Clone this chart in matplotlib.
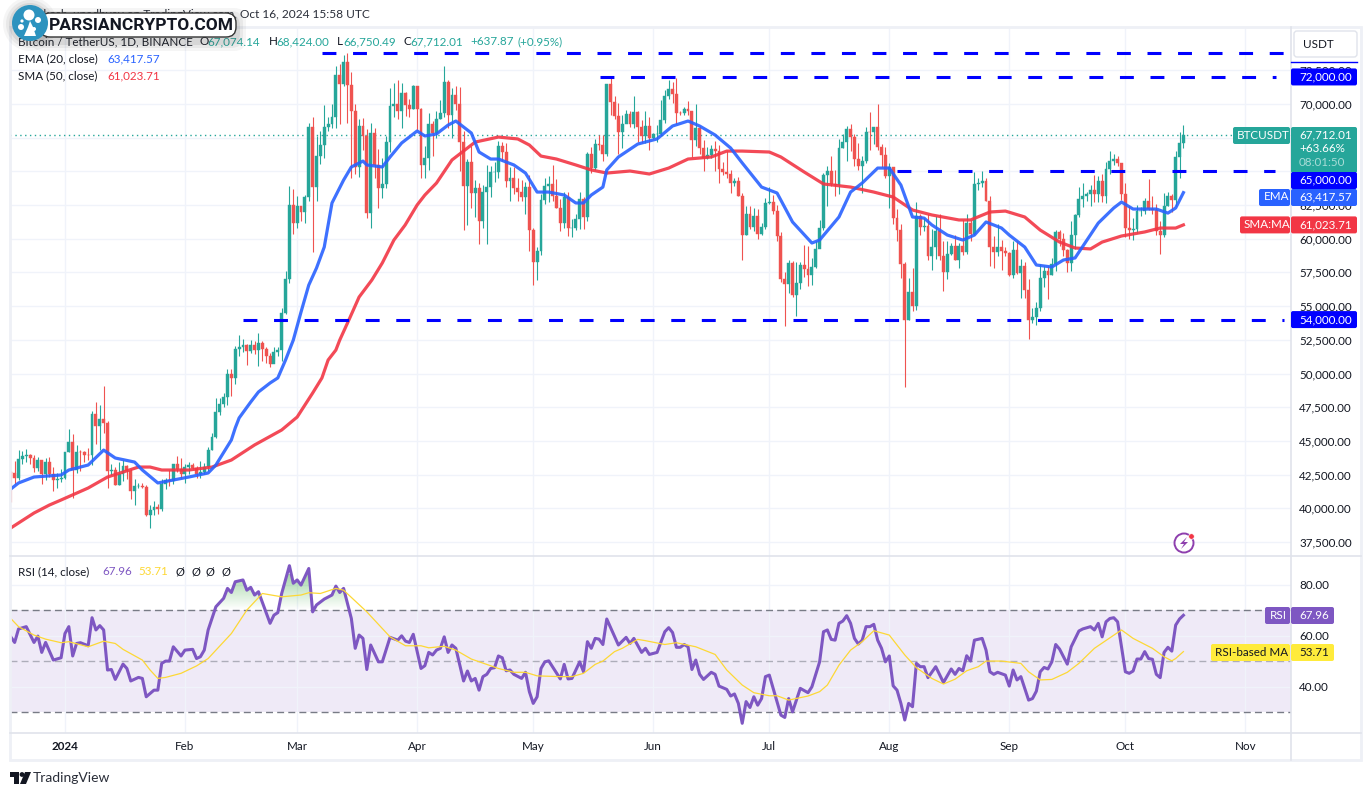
import numpy as np
import matplotlib
matplotlib.use('Agg')
import matplotlib.pyplot as plt
from matplotlib.patches import Circle, FancyBboxPatch, Polygon, Rectangle
from matplotlib.path import Path

plt.rcParams['font.family'] = ['Lato', 'DejaVu Sans']

W, H = 1372, 796

##daily candles, day 0 is Jan 1 2024
first_day = -14
first_open = 42660
closes = [
	42650,42270,43660,43860,43990,43730,43010,43580,42520,43440,42580,42070,42140,42280,
	44180,44950,42850,44180,44160,43970,43930,46970,46120,46650,46340,42780,42840,41730,42510,43140,42780,41290,41620,41670,41550,39530,39890,40080,39930,41820,42120,42030,43300,42940,42580,
	43080,43190,42990,42580,42700,43090,44350,45290,47130,47770,48290,49950,49700,51830,51940,52120,51640,52130,51780,52260,51850,51300,50730,51570,51730,54480,57040,62500,61130,
	62390,61990,63130,68250,63800,66100,66930,68300,68500,69020,72120,71480,73080,71390,69500,65300,68390,67600,61940,67840,65500,63790,64040,67210,69880,69990,69450,70780,69900,69620,71330,
	69650,65470,65970,68490,67840,68900,69360,71620,69150,70640,70010,67190,63920,65660,63420,63790,61280,63470,63820,64940,64940,66840,66410,64280,64500,63770,63460,63120,63840,60670,
	58300,59120,62890,63890,64030,63160,62310,61190,63070,60790,60820,61480,62940,61580,66270,65230,67050,66940,66270,71450,70140,69120,67930,68530,69280,68500,69390,68300,67630,68360,67490,
	67750,67760,68800,70560,71080,70760,69340,69300,69650,69510,67320,68240,66750,66010,66190,66640,66490,65150,64960,64830,64100,64250,63180,60280,61800,60860,61670,60320,60890,62670,
	62750,62020,60200,57040,56630,58230,55850,56700,58040,57720,57340,57890,59200,60790,64720,65040,64090,63970,66700,67150,68170,67530,65930,65370,65780,67910,67900,68250,66780,66190,64620,
	65350,61500,60680,58110,53990,56040,55030,61710,60880,60940,58710,59350,60600,58730,57560,58870,59490,58430,59470,59010,61160,60380,64040,64160,64250,62830,59420,59030,59370,59120,58970,
	57300,59130,57480,57970,56160,53950,54160,54870,57050,57640,57340,58130,60500,60000,59130,58210,60310,61760,62950,63200,63350,63580,63330,64260,63140,65180,65790,65880,65600,63330,
	60800,60650,60750,62080,62090,62820,62220,62130,60580,60270,62450,63190,62850,66050,67074,67712,
]
highs = [
	42750,43500,44290,44240,44370,44040,43950,43800,43600,43700,43800,43100,42600,42900,
	44190,45880,45500,44730,44350,44220,44500,47250,47880,47700,49050,46500,43260,43080,43400,43570,43200,42930,42200,41870,41880,41710,40280,40550,40300,42200,42240,42840,43310,43880,43740,
	43290,43420,43380,43120,43530,43380,44550,45600,48170,48150,48590,50300,50360,52040,52820,52570,52160,52480,52400,52980,52380,52000,51540,51980,51950,54880,57590,63930,63680,
	63150,62430,63230,68560,69000,67640,67990,69900,69030,70000,72800,72970,73650,73780,72400,70000,68900,68950,68120,68620,68240,66650,65970,67620,71150,71560,71770,71550,70900,70350,71370,
	71300,69700,66900,69300,68750,69500,70300,72800,71750,71200,71300,71260,68000,65900,66900,64350,64130,64000,65450,65390,65700,67230,67200,67070,65300,65300,64490,64370,64230,64750,
	60800,59400,63300,64500,64650,65500,64400,62980,63450,63450,61440,61800,63450,63120,66450,66800,67400,67700,67690,71500,71950,70600,70050,69200,69550,69500,70600,69500,68800,69500,69000,
	67850,68400,70300,71050,71750,71600,71950,69500,69800,70200,69500,70000,68350,67300,66800,66950,67250,66950,65700,66500,65100,64500,64550,63400,62400,62450,62300,62200,61200,63000,
	63800,63250,62500,60500,57500,58450,58350,58250,58300,59500,59450,58550,59800,61400,64900,65400,66100,65100,67400,67800,68350,68500,67800,67100,66100,68250,69400,68300,70000,67000,66800,
	65600,65000,62200,61100,58300,57100,57800,62700,61800,61500,61850,60700,61700,61800,59800,59850,59700,60300,59650,61400,61800,61400,64950,64500,65000,64500,63200,60200,61100,59900,59400,
	59000,59800,59850,58500,58300,57000,54850,55300,58100,58000,58000,58600,60650,60650,60400,59200,61300,61800,63850,64100,63500,64000,64700,64650,64800,65700,66500,66250,66100,65500,
	64150,62400,61500,62500,62370,63000,64450,63200,62550,61300,63400,63500,63300,66500,67950,68424,
]
lows = [
	40500,41800,42100,43300,43400,43300,42700,42750,41800,42100,42300,41300,41500,41960,
	42170,44150,40750,42630,42800,43400,43590,43200,44800,44300,45600,41500,42440,41700,41720,42050,42200,40680,40280,41500,41500,39430,38550,39480,39550,39820,41400,41630,41820,42680,42280,
	41880,42570,42880,42260,42260,42570,42780,44350,45240,46900,47550,47700,48300,49250,51300,51620,50630,51520,51480,50520,50900,50770,50500,50940,51280,50900,54450,56700,60360,
	60800,61320,61130,62800,59000,62770,65550,66000,68000,68200,68200,68500,71340,68550,64530,64780,64550,66600,61500,60780,64530,62260,63000,63790,66400,69000,68900,68200,69100,69000,69610,
	68100,64500,64500,65060,66150,67500,68900,69050,68200,67500,69570,65000,60660,61000,62300,61600,59600,60830,59600,63100,64240,64500,65800,63800,62800,63300,62800,62800,61800,59100,
	56550,56900,58800,62600,62700,62800,62250,60600,60800,60200,60140,60630,60750,60700,61300,64900,65100,66600,65800,66100,69200,68900,66300,66700,68900,68300,68200,67200,67100,67100,66600,
	67400,67200,67600,68550,70400,70100,68500,69200,69200,69200,66050,66900,66300,65000,65900,66000,65000,64100,64700,64500,63400,63900,63200,58400,60250,60700,60600,60000,60250,60700,
	62550,61800,59800,56800,53500,56000,55700,54300,56300,57150,56500,56550,57800,59500,60650,62400,63900,63200,63300,66700,65800,66500,65400,65100,63400,65650,66600,67000,66550,65300,64500,
	62300,61100,59850,57100,49000,53950,54600,54700,60300,60600,58400,57650,58500,58450,56100,57000,58800,58400,57850,58800,58850,59800,60300,63600,63800,62800,58000,57850,58750,57700,58750,
	57200,57100,57400,55600,55600,52550,53750,53600,54600,56400,55550,57300,57600,59450,58700,57500,57600,59200,61600,62350,62800,62400,62700,62700,62700,62650,64800,65450,65400,62900,
	60150,60000,59900,60450,61700,61800,62100,61800,60300,58900,60100,62400,62000,62400,64500,66750,
]

ema_points = [(-14,41430),(-12,41877),(-8,42320),(-1,42470),(1,42840),(6,43210),(10,44320),(13,43730),(18,43430),(20,42840),(24,41880),(32,42320),(37,42620),(39,43210),(43,45070),(44,45960),(45,46700),(48,47885),(50,48630),(53,49295),(55,49670),(57,51000),(59,52480),(61,54560),(63,56560),(65,57825),(67,59380),(68,61015),(69,62650),(72,64350),(74,65320),(77,65760),(78,65470),(82,65320),(84,66060),(87,67100),(91,67990),(93,67620),(96,67770),(99,68430),(101,68730),(105,67840),(107,66430),(110,65910),(112,65910),(116,65470),(119,64870),(122,63460),(125,63460),(129,63240),(132,62650),(134,62650),(136,63240),(139,63830),(140,65100),(143,66060),(148,67020),(153,67400),(157,68360),(161,68730),(164,68360),(168,67690),(172,66730),(175,65620),(180,63830),(184,63390),(188,61240),(193,59680),(195,59900),(200,61610),(203,63460),(206,64130),(210,65240),(213,65240),(216,63980),(219,61610),(222,61530),(224,61020),(228,60270),(232,59900),(235,60270),(238,61240),(242,60790),(244,60270),(248,59380),(251,58050),(255,57900),(258,58420),(261,58570),(267,61160),(271,62280),(273,62720),(276,62200),(282,62200),(285,61900),(287,62280),(289,63418)]
sma_points = [(-14,38540),(-8,39650),(-4,40245),(-1,40616),(6,41506),(11,42320),(15,42690),(19,43060),(22,43060),(25,42840),(32,42840),(38,43060),(43,43580),(49,44700),(56,45810),(60,46770),(64,48550),(66.4,49670),(68,51000),(70,51740),(71,52480),(73.6,54120),(76,55670),(79.3,56935),(82,58200),(85,59900),(87.9,61015),(91,62500),(93,63240),(96,64130),(100,65840),(106,67170),(112,67540),(117,67400),(120,66950),(123,66130),(127,65910),(132,65470),(136,65100),(140,64870),(146,65020),(151,64800),(156,65240),(161,65910),(167,66060),(171,66500),(175,66500),(182,66430),(185,66060),(191,64950),(196,64060),(203,63830),(209,63460),(214,63090),(219,62130),(224,61760),(231,61390),(234,61390),(239,61980),(243,62050),(248,61610),(252,60640),(257,59750),(261,59310),(265,59240),(268,59750),(273,60200),(279,60500),(283,60790),(287,60790),(289,61024)]

rsi_points = [(-14,59.5),(-13,57.3),(-12,62.6),(-10,63.5),(-8,57.3),(-7,59.8),(-6,53.4),(-5,57.3),(-3,50.4),(-1,51.3),(0,60.8),(1,63.5),(2,52),(3,56.9),(4,57.2),(6,56),(7,67),(8,62.2),(9,63.9),(10,62.2),(11,46.5),(12,46.7),(13,42.8),(15,48.8),(16,47.1),(17,42.2),(19,43.6),(20,43.2),(21,36),(23,38.6),(24,38.6),(25,49.1),(26,50),(27,50),(28,55.6),(30,52),(31,54.3),(33,54.6),(34,51),(35,51.7),(36,54.3),(37,62.2),(39,71.3),(41,74.6),(42,78.5),(43,76.9),(44,81.1),(46,81.8),(47,77.8),(48,78.9),(49,75.9),(50,77.2),(53,64.8),(54,68),(55,69),(56,76.5),(58,87.4),(59,80.5),(60,81.8),(61,79.8),(63,86.3),(64,69.3),(65,72),(67,74.3),(69,75.9),(70,79.4),(71,76.9),(72,78.5),(74,66.7),(75,55),(76,60.2),(77,58.9),(78,46.7),(79,56.3),(81,49.7),(82,49.7),(84,59.3),(86,58.2),(87,59.9),(88,57.8),(89,57.3),(90,60.5),(92,47.1),(93,48.2),(94,53.4),(95,52.4),(96,54.3),(97,55),(98,59.5),(99,53.4),
	(100,56.3),(101,55),(103,42.2),(104,46.1),(105,42.2),(106,43.2),(107,38.6),(108,43.9),(109,44.8),(110,47.1),(111,47.4),(112,52),(113,51.3),(114,46.2),(115,46.5),(116,44.8),(118,43.2),(119,45.6),(120,38),(121,33.4),(122,36),(123,47.1),(124,49.7),(125,50.1),(128,43),(129,48.7),(130,43),(131,43.2),(133,49.7),(134,45.8),(135,57.6),(136,55),(137,58.9),(138,58.6),(139,56.5),(140,66.5),(143,56.3),(145,59.3),(146,56.9),(147,58.9),(149,53.4),(150,55),(151,52.6),(153,53.4),(155,61.5),(156,63.1),(157,61.2),(158,55.4),(159,55.4),(160,56.5),(161,55.6),(162,46.7),(163,50.4),(164,44.8),(165,42.8),(167,45.6),(168,44.8),(169,40.2),(171,38.9),(172,36.3),(173,37.1),(174,33.4),(175,25.6),(176,34.1),(177,31.8),(178,36),(179,32.7),(180,35.3),(181,43.9),(182,44.5),(183,39.3),(185,28.8),(186,27.9),(187,35.3),(188,30.1),(190,39.3),(192,37.6),(193,39.9),(195,49.7),(196,61.5),(197,62.2),(198,58.5),(199,58.2),(200,64.8),(201,65.7),(202,67.8),(203,64.8),(204,58.9),(205,56.7),(206,58.2),(207,63.5),(208,63.5),(209,64.4),(210,58.2),(211,55),(212,49.7),(213,52),
	(214,40.3),(215,38.6),(216,33.4),(217,26.9),(218,33.4),(219,32.1),(220,49.1),(221,47.8),(222,47.8),(223,43.5),(225,47.8),(227,41.6),(229,46.9),(230,44.8),(231,47.1),(232,46.2),(233,52.1),(234,50),(235,58.2),(237,58.9),(238,54.3),(239,45.8),(240,44.8),(241,45.6),(243,44.5),(244,40.2),(245,46.5),(246,42.6),(247,43.9),(249,34.7),(250,35.3),(251,38.2),(252,45.8),(253,47.5),(254,46.9),(255,49.7),(256,56.5),(257,54.7),(259,48.8),(260,55.6),(262,61.8),(263,62.6),(265,63.5),(266,62.2),(267,64.8),(268,59.5),(269,65.4),(270,66.7),(271,67),(272,65.4),(274,45.8),(275,45.2),(276,46.1),(277,50.8),(278,50.8),(279,53.7),(280,51),(281,50.7),(282,44.8),(283,43.5),(284,53.4),(285,55.4),(286,53.9),(287,64.1),(288,66.5),(289,67.96)]
rsi_ma_points = [(-14,66.7),(-12,63.5),(-8,60.2),(-5,58.6),(-1,57.2),(1,57.6),(6,55.6),(10,57.8),(13,56.9),(15,54.6),(20,50.4),(22,46.5),(24,43.2),(26,43.6),(30,45.2),(34,48.1),(37,51),(43,60.8),(47,70),(51,76.5),(56,75.2),(61,75.9),(63,76.8),(66,76.5),(70,78.5),(72,77.8),(78,69.3),(84,59.5),(88,56),(92,56),(94,55.2),(98,55.8),(101,54.3),(105,50.8),(112,47.1),(116,45.6),(119,45.6),(122,44.2),(128,43.9),(131,43.9),(134,45.2),(137,48.7),(139,50),(142,53.7),(144,55),(148,58.5),(150,58),(155,56.5),(158,57.2),(163,55.6),(168,52.6),(171,46.5),(175,40.6),(178,37.6),(182,36.4),(184,36.4),(187,34.7),(192,36.3),(195,38),(197,40.6),(200,48.4),(203,54.3),(206,57.6),(209,61.9),(213,60.2),(217,52.4),(220,47.4),(224,43.2),(227,41),(230,42.9),(233,46.2),(236,47.8),(238,50),(242,50),(247,49.1),(249,45.8),(252,42.6),(255,42.8),(259,45.6),(262,49.1),(266,55),(273,62.2),(276,58.9),(281,55),(284,51.7),(286,50.1),(287,51),(289,53.71)]

price_ticks = [37500 + 2500 * i for i in range(15)]
hidden_price_labels = [65000, 67500]
rsi_ticks = [40, 60, 80]
month_days = [0, 31, 60, 91, 121, 152, 182, 213, 244, 274, 305]
month_labels = ['2024', 'Feb', 'Mar', 'Apr', 'May', 'Jun', 'Jul', 'Aug', 'Sep', 'Oct', 'Nov']

#level, first day, last day of the hand drawn lines
levels = [(73775, 66.4, 316.8), (72000, 138.2, 312.9), (65000, 215, 312.6), (54000, 46, 315)]

up_color = '#26a69a'
down_color = '#ef5350'
ema_color = '#2962ff'
sma_color = '#f23645'
rsi_color = '#7e57c2'
rsi_ma_color = '#fdd835'
line_blue = '#0000ff'
grid_color = '#f0f3fa'
text_color = '#131722'
frame_color = '#e0e3eb'
font_size = 8.4

def px_axes(left, top, right, bottom):
	return fig.add_axes([left / W, 1 - bottom / H, (right - left) / W, (bottom - top) / H])

def label_box(x0, x1, y0, y1, color, round_size=2):
	ov.add_patch(FancyBboxPatch((x0, y0), x1 - x0, y1 - y0, boxstyle=f'round,pad=0,rounding_size={round_size}', fc=color, ec='none', zorder=5))

def put(x, y, s, color=text_color, size=font_size, ha='left', **kw):
	ov.text(x, y, s, color=color, fontsize=size, ha=ha, va='center', zorder=6, **kw)

def pane_y(axis, v):
	return H - axis.transData.transform((0, v))[1]

fig = plt.figure(figsize=(W / 100, H / 100), dpi=100, facecolor='white')
ax = px_axes(10, 27, 1291, 556)
ax_rsi = px_axes(10, 556, 1291, 733)

x_left = -14.2
x_right = 316.8
to_price = lambda y: 37500 + (542 - y) / 0.01348

for a in (ax, ax_rsi):
	a.set_xlim(x_left, x_right)
	for s in a.spines.values():
		s.set_visible(False)
	a.set_xticks(month_days)
	a.grid(True, color=grid_color, lw=1)
	a.set_axisbelow(True)
	a.tick_params(length=0, labelsize=font_size, colors=text_color)
	a.yaxis.tick_right()
	a.tick_params(axis='y', pad=6)

ax.set_ylim(to_price(556), to_price(27))
ax.set_yticks(price_ticks)
ax.set_yticklabels(['' if v in hidden_price_labels else f'{v:,.2f}' for v in price_ticks])
ax.set_xticklabels([])

ax_rsi.set_ylim(21.8, 91.2)
ax_rsi.set_yticks(rsi_ticks)
ax_rsi.set_yticklabels([f'{v:.2f}' for v in rsi_ticks])
ax_rsi.set_xticklabels(month_labels)
ax_rsi.tick_params(axis='x', pad=6)
ax_rsi.get_xticklabels()[0].set_fontweight('bold')

#candles
days = np.arange(len(closes)) + first_day
opens = np.array([first_open] + closes[:-1])
closes_a = np.array(closes)
is_up = closes_a >= opens
colors = [up_color if u else down_color for u in is_up]
ax.vlines(days, lows, highs, colors=colors, lw=0.8, zorder=2)
ax.bar(days, np.abs(closes_a - opens), bottom=np.minimum(opens, closes_a), width=0.75, color=colors, edgecolor=colors, lw=0.3, zorder=3)

ax.plot(*zip(*sma_points), color=sma_color, lw=2.3, alpha=0.9, solid_joinstyle='round', zorder=4)
ax.plot(*zip(*ema_points), color=ema_color, lw=2.3, alpha=0.9, solid_joinstyle='round', zorder=4)

for level, d0, d1 in levels:
	ax.plot([d0, d1], [level, level], color=line_blue, lw=2.2, dashes=(4.55, 5.45), dash_capstyle='butt', zorder=5)
ax.axhline(closes[-1], color=up_color, lw=1, ls=(0, (1, 2.5)), zorder=1.5)

#rsi pane
rsi_x = np.array([p[0] for p in rsi_points], dtype=float)
rsi_y = np.array([p[1] for p in rsi_points], dtype=float)
ax_rsi.axhspan(30, 70, color=rsi_color, alpha=0.12, lw=0, zorder=0.5)
ax_rsi.axhline(70, color='#787b86', lw=1, ls=(0, (5, 3)), zorder=1.5)
ax_rsi.axhline(30, color='#787b86', lw=1, ls=(0, (5, 3)), zorder=1.5)
ax_rsi.axhline(50, color='#787b86', lw=1, ls=(0, (5, 3)), alpha=0.55, zorder=1.5)

#overbought gradient, clipped to the area over 70
over = ax_rsi.fill_between(rsi_x, rsi_y, 70, where=rsi_y > 70, interpolate=True, color='none')
grad = np.zeros((60, 1, 4))
grad[:, :, 0] = 76 / 255
grad[:, :, 1] = 175 / 255
grad[:, :, 2] = 80 / 255
grad[:, 0, 3] = np.linspace(0.5, 0, 60)
img = ax_rsi.imshow(grad, extent=[x_left, x_right, 70, 84], aspect='auto', zorder=1.2, origin='upper')
img.set_clip_path(Path.make_compound_path(*over.get_paths()), ax_rsi.transData)
ax_rsi.set_xlim(x_left, x_right)
ax_rsi.set_ylim(21.8, 91.2)

ax_rsi.plot(rsi_x, rsi_y, color=rsi_color, lw=2.2, solid_joinstyle='round', zorder=3)
ax_rsi.plot(*zip(*rsi_ma_points), color=rsi_ma_color, lw=0.9, zorder=4)

#everything drawn in pixels goes on top
ov = fig.add_axes([0, 0, 1, 1], zorder=10)
ov.set_xlim(0, W)
ov.set_ylim(H, 0)
ov.axis('off')
ov.patch.set_alpha(0)

#frame
ov.add_patch(Rectangle((10, 27), 1351, 733, fc='none', ec='#eef0f6', lw=2, zorder=1))
ov.plot([10, 1361], [556, 556], color=frame_color, lw=1.2, zorder=1)
ov.plot([10, 1361], [733, 733], color=frame_color, lw=1.2, zorder=1)
ov.plot([1291, 1291], [27, 760], color=frame_color, lw=1.2, zorder=1)

#price scale labels
bx0, bx1 = 1291, 1357
y_ema = 197
y_top = 127
label_box(bx0, bx1, pane_y(ax, 72000) - 8.5, pane_y(ax, 72000) + 8.5, line_blue)
put(1299, pane_y(ax, 72000), '72,000.00', 'white')
label_box(1233, 1290, y_top, y_top + 17, up_color)
put(1237, y_top + 8.5, 'BTCUSDT', 'white')
label_box(bx0, bx1, y_top, 173, up_color)
put(1299, y_top + 8, '67,712.01', 'white')
put(1299, y_top + 22, '+63.66%', 'white')
put(1299, y_top + 36, '08:01:50', '#a8dcd7')
label_box(bx0, bx1, 172, 189, line_blue)
put(1299, 180, '65,000.00', 'white')
label_box(1259, 1290, 189, 206, ema_color)
put(1264, y_ema, 'EMA', 'white')
label_box(bx0, bx1, 189, 206, ema_color)
put(1299, y_ema, '63,417.57', 'white')
y_sma = pane_y(ax, 61023.71)
label_box(1240, 1290, y_sma - 8.5, y_sma + 8.5, sma_color)
put(1244, y_sma, 'SMA:MA', 'white')
label_box(bx0, bx1, y_sma - 8.5, y_sma + 8.5, sma_color)
put(1299, y_sma, '61,023.71', 'white')
y_54 = pane_y(ax, 54000)
label_box(bx0, bx1, y_54 - 8.5, y_54 + 8.5, line_blue)
put(1299, y_54, '54,000.00', 'white')

#rsi scale labels
label_box(1265, 1290, 607, 624, rsi_color)
put(1270, 615.5, 'RSI', 'white')
label_box(bx0, 1334, 607, 624, rsi_color)
put(1299, 615.5, '67.96', 'white')
label_box(1211, 1290, 644, 661, '#ffeb3b')
put(1215, 652.5, 'RSI-based MA')
label_box(bx0, 1334, 644, 661, '#ffeb3b')
put(1299, 652.5, '53.71')

#USDT button and the squeezed top label under it
ov.plot([1291, 1357], [61.5, 61.5], color=line_blue, lw=1, zorder=4)
ov.add_patch(FancyBboxPatch((1294, 31), 63, 26, boxstyle='round,pad=0,rounding_size=3', fc='white', ec=frame_color, lw=1, zorder=5))
put(1303, 44, 'USDT')

#legend lines
put(18, 41.5, 'Bitcoin / TetherUS, 1D, BINANCE')
for x, s, c in [(200, 'O', text_color), (207, '67,074.14', up_color), (269, 'H', text_color), (276, '68,424.00', up_color), (337, 'L', text_color), (343, '66,750.49', up_color), (403, 'C', text_color), (410, '67,712.01', up_color), (470, '+637.87', up_color), (517, '(+0.95%)', up_color)]:
	put(x, 41.5, s, c)
put(18, 59, 'EMA (20, close)')
put(107, 59, '63,417.57', ema_color)
put(18, 76, 'SMA (50, close)')
put(107, 76, '61,023.71', sma_color)
put(18, 571.5, 'RSI (14, close)')
put(102, 571.5, '67.96', rsi_color)
put(138, 571.5, '53.71', rsi_ma_color)
for x in (175, 191, 206, 221):
	put(x, 571.5, 'Ø', size=8)

#header line, mostly behind the logo
put(370, 15, 'rakesh_upadhyay on TradingView.com, Oct 16, 2024 15:58 UTC', ha='right', size=8.6, color='#2a2e39')

#flash icon
ov.add_patch(Circle((1184, 543), 9.5, fc='white', ec='#8e3fae', lw=1.4, zorder=5))
ov.add_patch(Polygon([(1187, 537), (1180, 544), (1184, 544), (1181, 549), (1188, 542), (1184, 542)], fc='#8e3fae', ec='none', zorder=6))
ov.add_patch(Circle((1191.5, 536.5), 2.8, fc='#f23645', ec='white', lw=0.5, zorder=7))

#tradingview footer logo
ov.add_patch(Polygon([(10, 772), (19, 772), (19, 784), (14, 784), (14, 777), (10, 777)], fc=text_color, ec='none', zorder=6))
ov.add_patch(Circle((22, 774.5), 2.4, fc=text_color, ec='none', zorder=6))
ov.add_patch(Polygon([(25, 772), (31, 772), (26, 784), (20, 784)], fc=text_color, ec='none', zorder=6))
put(33, 778, 'TradingView', size=10, color='#2a2e39')

#parsiancrypto stamp
for grow, alpha in [(9, 0.05), (6, 0.07), (3, 0.1)]:
	ov.add_patch(FancyBboxPatch((40 - grow, 13 - grow + 4), 197 + 2 * grow, 25 + 2 * grow, boxstyle='round,pad=0,rounding_size=12', fc='#444444', ec='none', alpha=alpha, zorder=7))
	ov.add_patch(Circle((30, 24), 18 + grow, fc='#444444', ec='none', alpha=alpha, zorder=7))
ov.add_patch(FancyBboxPatch((40, 13), 196, 24, boxstyle='round,pad=0,rounding_size=10', fc='white', ec='#333333', lw=1, zorder=8))
ov.text(49, 25, 'PARSIANCRYPTO.COM', fontsize=12.5, fontweight='bold', color=text_color, ha='left', va='center', zorder=9, family='Roboto')
ov.add_patch(Circle((30, 23), 18, fc='#2d93bf', ec='none', zorder=9))
ov.add_patch(Polygon([(24, 36), (36, 36), (33, 27), (30, 21), (28, 27)], fc='white', ec='none', zorder=10))
for cx, cy, r in [(29, 15, 5.5), (21, 27, 3), (38, 20, 3), (22, 21, 1.6), (34, 29, 2)]:
	ov.add_patch(Circle((cx, cy), r, fc='white', ec='none', zorder=10))

fig.savefig('out.png', dpi=100)
